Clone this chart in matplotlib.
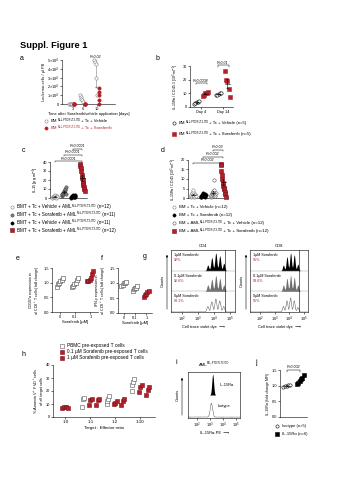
import re
import numpy as np
import matplotlib
matplotlib.use('Agg')
import matplotlib.pyplot as plt
import matplotlib.patches
from matplotlib.lines import Line2D

plt.rcParams['font.family'] = ['Liberation Sans', 'DejaVu Sans']
plt.rcParams['mathtext.fontset'] = 'custom'
plt.rcParams['mathtext.rm'] = 'Liberation Sans'
plt.rcParams['mathtext.it'] = 'Liberation Sans:italic'
plt.rcParams['axes.linewidth'] = 0.4
for k in ['xtick', 'ytick']:
    plt.rcParams[k + '.major.width'] = 0.4
    plt.rcParams[k + '.major.size'] = 1.2
    plt.rcParams[k + '.major.pad'] = 0.8
    plt.rcParams[k + '.labelsize'] = 2.8

RED = '#b3202a'
DRED = '#7a1018'
GREY = '#808080'
SUPTXT = '^{MLL-PTD/FLT3-ITD}'

# ---------------- DATA ----------------
# a
a_days = [3, 6, 10]
a_vehicle = [[0, 0, 0, 0, 0], [1.0, 0.8, 0.6, 0.4, 0.2], [5.0, 4.8, 4.5, 3.0, 1.0]]
a_sorafenib = [[0, 0, 0, 0, 0], [0, 0, 0, 0, 0], [1.8, 1.4, 1.0, 0.5, 0.0]]
a_yticks = [0, 1, 2, 3, 4, 5]
a_yticklabels = ['0', r'$1{\times}10^4$', r'$2{\times}10^4$', r'$3{\times}10^4$', r'$4{\times}10^4$', r'$5{\times}10^4$']
# b
b_days = ['Day 4', 'Day 14']
b_vehicle = [[2.5, 3.0, 3.5, 4.0, 4.5], [8.5, 9.0, 9.5, 10.0, 10.5]]
b_sorafenib = [[8.0, 9.0, 10.0, 10.5, 11.0], [26, 20, 19, 13, 7]]
b_pvals = ['P=0.0008', 'P=0.01']
# c
c_groups = [
    [0.5, 1, 1.5, 2, 2.5, 0.8, 1.2, 3, 0.3, 1.8, 2.2, 0.6],
    [2, 3, 4, 5, 6, 7, 8, 9, 10, 12, 4.5],
    [0.5, 1, 1.5, 2, 2.5, 3, 1.2, 0.8, 2.8, 1.6, 2.1],
    [38, 36, 33, 30, 26, 22, 20, 17, 15, 12, 10, 8],
]
c_pvals = ['P<0.0001', 'P<0.0001', 'P<0.0001']
# d
d_groups = [
    [0.5, 1, 1.5, 2, 2.5, 3, 4, 0.3, 1.2, 2.2, 1.8, 0.8],
    [0.3, 0.6, 1, 1.3, 1.6, 2, 2.4, 0.8, 1.1, 1.9, 0.5, 1.4],
    [0.5, 1, 1.5, 2, 2.5, 3, 3.5, 4, 9.5, 1.2, 2.2, 2.8],
    [18, 17.5, 14, 12, 10, 8, 6.5, 5.5, 5, 3, 2, 0.5],
]
d_pvals = ['P=0.002', 'P=0.002', 'P=0.03']
# e, f
ef_doses = ['0', '0.1', '1']
e_vals = [[0.85, 0.95, 1.0, 1.05, 1.1, 1.15], [0.85, 0.9, 0.95, 1.0, 1.1, 1.15], [1.05, 1.05, 1.1, 1.15, 1.3, 1.4]]
f_vals = [[0.9, 0.95, 1.0, 1.0, 1.05], [0.75, 0.8, 0.82, 0.85, 0.9], [0.55, 0.6, 0.65, 0.7, 0.75]]
# g (histogram generation peaks: centres in log10 units, heights)
g_centres = [3.6, 3.85, 4.1, 4.35, 4.6]
g_cd4_heights = [[0.30, 0.70, 0.95, 0.80, 0.40], [0.35, 0.65, 0.85, 0.70, 0.35], [0.30, 0.55, 0.70, 0.60, 0.30]]
g_cd8_heights = [[0.30, 0.75, 0.95, 0.85, 0.35], [0.35, 0.70, 0.85, 0.75, 0.35], [0.30, 0.60, 0.75, 0.60, 0.25]]
g_labels = ['1µM Sorafenib', '0.1µM Sorafenib', '0µM Sorafenib']
g_cd4_pct = ['92%', '92.6%', '93.1%']
g_cd8_pct = ['95%', '94.6%', '95%']
# h
h_ratios = ['1:0', '1:1', '1:2', '1:10']
h_target_only = [7.0, 7.5, 8.0, 7.2]
h_pbmc = [[8, 14, 15], [10, 12, 14, 16], [20, 25, 27, 29]]
h_s01 = [[9, 13, 13.5], [10, 11, 12], [19, 23, 25]]
h_s1 = [[9, 13, 14], [9, 12, 14], [17, 21, 23]]
# i
i_centre_il15 = 3.2
i_centre_iso = 3.1
# j
j_iso = [0.97, 0.99, 1.0, 1.01, 1.03]
j_il15 = [1.05, 1.1, 1.15, 1.2, 1.25, 1.35]

# ---------------- FIGURE ----------------
W, H = 339, 480
fig = plt.figure(figsize=(W / 100, H / 100), dpi=100)
renderer = fig.canvas.get_renderer()


def axpx(x0, y0, x1, y1):
    return fig.add_axes([x0 / W, 1 - y1 / H, (x1 - x0) / W, (y1 - y0) / H])


def txt(x, y, s, **kw):
    return fig.text(x / W, 1 - y / H, s, **kw)


def rich(x, y, s, fs, color='k', ha='left'):
    """Draw text with ^{...} superscripts as separate small text pieces (baseline at y px)."""
    pieces = re.split(r'(\^\{[^}]*\})', s)
    items = []
    for p in pieces:
        if not p:
            continue
        if p.startswith('^{'):
            items.append((p[2:-1], True))
        else:
            items.append((p.replace(' ', '\u00a0'), False))
    widths = []
    for t, sup in items:
        tt = fig.text(0, 0, t, fontsize=fs * (0.6 if sup else 1))
        widths.append(tt.get_window_extent(renderer).width)
        tt.remove()
    total = sum(widths)
    cx = x - (total / 2 if ha == 'center' else 0)
    for (t, sup), w in zip(items, widths):
        txt(cx, y - (fs * 0.55 if sup else 0), t, fontsize=fs * (0.6 if sup else 1),
            va='baseline', ha='left', color=color)
        cx += w


def style(ax):
    ax.spines['top'].set_visible(False)
    ax.spines['right'].set_visible(False)


def spread(n, w):
    return np.linspace(-w, w, n) if n > 1 else np.zeros(1)


def dots(ax, x, vals, marker, fc, ec, ms=2.4, w=0.18, mean=True, lw=0.4):
    vals = np.asarray(vals, float)
    ax.plot(x + spread(len(vals), w), vals, ls='none', marker=marker, ms=ms,
            mfc=fc, mec=ec, mew=0.4, clip_on=False, zorder=3)
    if mean:
        m = vals.mean()
        se = vals.std(ddof=1) / np.sqrt(len(vals))
        ax.plot([x - w, x + w], [m, m], color='k', lw=lw, zorder=4)
        ax.errorbar([x], [m], yerr=[se], color='k', lw=lw, capsize=0.8, capthick=lw, zorder=4)


def bracket(ax, x1, x2, y, s, h, fs=2.6):
    ax.plot([x1, x1, x2, x2], [y - h, y, y, y - h], color='k', lw=0.35, clip_on=False)
    ax.text((x1 + x2) / 2, y + h * 0.4, s, ha='center', va='bottom', fontsize=fs, style='italic')


def legend_item(x, y, marker, fc, ec, label, color='k', fs=3.0):
    fig.add_artist(Line2D([x / W], [1 - y / H], marker=marker, ms=2.3, mfc=fc, mec=ec, mew=0.4,
                          ls='none', transform=fig.transFigure))
    rich(x + 5, y + 1.4, label, fs, color=color)


txt(20, 45, 'Suppl. Figure 1', fontsize=6.7, fontweight='bold', va='center')
for lab, x, y in [('a', 22, 58), ('b', 157, 58), ('c', 23, 150), ('d', 163, 150),
                  ('e', 18, 258), ('f', 102, 258), ('g', 145, 257), ('h', 23, 355),
                  ('i', 176, 363), ('j', 256, 363)]:
    txt(x, y, lab, fontsize=5, va='center', ha='center')

# ---- a ----
ax = axpx(62, 60, 115, 104)
style(ax)
for i, d in enumerate(a_days):
    dots(ax, d - 0.5, a_vehicle[i], 'o', 'white', GREY, w=0.4, mean=False)
    dots(ax, d + 0.5, a_sorafenib[i], 'o', RED, RED, w=0.0, mean=False)
vm = np.mean(a_vehicle[2]); vs = np.std(a_vehicle[2], ddof=1)
ax.errorbar([a_days[2] - 0.5], [vm], yerr=[vs], color=GREY, lw=0.4, capsize=0.8)
ax.text(a_days[2] - 0.5, 5.15, 'P=0.02', ha='center', va='bottom', fontsize=2.6, style='italic')
ax.set_xlim(0, 15)
ax.set_ylim(0, 5)
ax.set_yticks(a_yticks)
ax.set_yticklabels(a_yticklabels)
ax.set_xticks(a_days)
ax.set_xlabel('Time after Sorafenib/vehicle application [days]', fontsize=2.9, labelpad=1)
ax.set_ylabel('Leukemic cells / µl PB', fontsize=2.8, labelpad=1)
legend_item(46, 121, 'o', 'white', GREY, 'BM' + SUPTXT + ' + Tc + Vehicle', fs=3.1)
legend_item(46, 128, 'o', RED, RED, 'BM' + SUPTXT + ' + Tc + Sorafenib', color=RED, fs=3.1)

# ---- b ----
ax = axpx(190, 66, 233, 107)
style(ax)
for i in range(2):
    dots(ax, i - 0.2, b_vehicle[i], 'o', 'white', 'k', w=0.12)
    dots(ax, i + 0.2, b_sorafenib[i], 's', RED, RED, w=0.12)
ax.set_xlim(-0.5, 1.45)
ax.set_ylim(0, 30)
ax.set_yticks([0, 10, 20, 30])
ax.set_xticks([0, 1])
ax.set_xticklabels(b_days)
ax.set_ylabel('IL-15Rα / CD45.1 [10$^3$ ml$^{-1}$]', fontsize=2.6, labelpad=1)
bracket(ax, -0.25, 0.25, 17.5, b_pvals[0], 0.9)
bracket(ax, 0.75, 1.25, 30.5, b_pvals[1], 0.9)
legend_item(174, 123, 'o', 'white', 'k', 'BM' + SUPTXT + ' + Tc + Vehicle (n=5)', fs=3.1)
legend_item(174, 134, 's', RED, RED, 'BM' + SUPTXT + ' + Tc + Sorafenib (n=5)', fs=3.1)

# ---- c ----
ax = axpx(50, 162, 87, 198)
style(ax)
cstyles = [('o', 'white', GREY), ('o', GREY, '#444444'), ('o', 'k', 'k'), ('s', RED, DRED)]
for i, vals in enumerate(c_groups):
    mk, fc, ec = cstyles[i]
    dots(ax, i, vals, mk, fc, ec, w=0.25)
ax.set_xlim(-0.5, 3.5)
ax.set_ylim(0, 40)
ax.set_yticks([0, 10, 20, 30, 40])
ax.set_xticks([])
ax.set_ylabel('IL-15 [pg ml$^{-1}$]', fontsize=2.8, labelpad=1)
bracket(ax, 0, 3, 41, c_pvals[0], 1.2)
bracket(ax, 1, 3, 48, c_pvals[1], 1.2)
bracket(ax, 2, 3, 55, c_pvals[2], 1.2)
c_labels = ['BMT + Tc + Vehicle + AML' + SUPTXT + ' (n=12)',
            'BMT + Tc + Sorafenib + AML' + SUPTXT + ' (n=11)',
            'BMT + Tc + Vehicle + AML' + SUPTXT + ' (n=11)',
            'BMT + Tc + Sorafenib + AML' + SUPTXT + ' (n=12)']
for i, lab in enumerate(c_labels):
    mk, fc, ec = cstyles[i]
    legend_item(12, 207 + 7.8 * i, mk, fc, ec, lab, fs=3.3)

# ---- d ----
ax = axpx(188, 160, 228, 198)
style(ax)
dstyles = [('o', 'white', GREY), ('o', 'k', 'k'), ('o', 'white', '#555555'), ('s', RED, DRED)]
for i, vals in enumerate(d_groups):
    mk, fc, ec = dstyles[i]
    dots(ax, i, vals, mk, fc, ec, w=0.25)
ax.set_xlim(-0.5, 3.5)
ax.set_ylim(0, 20)
ax.set_yticks([0, 5, 10, 15, 20])
ax.set_xticks([])
ax.set_ylabel('IL-15Rα / CD45 [10$^3$ ml$^{-1}$]', fontsize=2.6, labelpad=1)
bracket(ax, 0, 3, 18.5, d_pvals[0], 0.6)
bracket(ax, 1, 3, 21.8, d_pvals[1], 0.6)
bracket(ax, 2, 3, 25.3, d_pvals[2], 0.6)
d_labels = ['BM + Tc + Vehicle (n=12)', 'BM + Tc + Sorafenib (n=12)',
            'BM + AML' + SUPTXT + ' + Tc + Vehicle (n=12)',
            'BM + AML' + SUPTXT + ' + Tc + Sorafenib (n=12)']
for i, lab in enumerate(d_labels):
    mk, fc, ec = dstyles[i]
    legend_item(174, 207 + 8 * i, mk, fc, ec, lab, fs=3.2)

# ---- e, f ----
for vals, box, ylab in [(e_vals, (52, 268, 98, 312), 'CD107a expression in\nall CD8$^+$ T cells (fold change)'),
                        (f_vals, (118, 268, 152, 313), 'IFN-γ expression in\nall CD8$^+$ T cells (fold change)')]:
    ax = axpx(*box)
    style(ax)
    for i, v in enumerate(vals):
        if i < 2:
            dots(ax, i, v, 's', 'white', '#444444', ms=2.7, w=0.2, mean=False)
        else:
            dots(ax, i, v, 's', RED, DRED, ms=2.7, w=0.2, mean=False)
    ax.set_xlim(-0.5, 2.5)
    ax.set_ylim(0, 1.5)
    ax.set_yticks([0, 0.5, 1.0, 1.5])
    ax.set_yticklabels(['0.0', '0.5', '1.0', '1.5'])
    ax.set_xticks([0, 1, 2])
    ax.set_xticklabels(ef_doses)
    ax.set_xlabel('Sorafenib [µM]', fontsize=2.9, labelpad=1)
    ax.set_ylabel(ylab, fontsize=2.6, labelpad=1)

# ---- g ----
xg = np.linspace(1.3, 5.3, 600)


def profile(centres, heights, sd=0.06):
    y = np.zeros_like(xg)
    for c, h in zip(centres, heights):
        y += h * np.exp(-0.5 * ((xg - c) / sd) ** 2)
    return y


for title, x0, x1, heights, pcts in [('CD4', 171, 235, g_cd4_heights, g_cd4_pct),
                                     ('CD8', 250, 308, g_cd8_heights, g_cd8_pct)]:
    ax = axpx(x0, 250, x1, 312)
    for r in range(3):
        base = 2 - r
        y = base + 0.9 * profile(g_centres, heights[r])
        if r == 0:
            ax.fill_between(xg, base, y, color='k', lw=0)
        elif r == 1:
            ax.fill_between(xg, base, y, color='#6e6e6e', lw=0)
        else:
            ax.plot(xg, y, color='k', lw=0.35, ls=(0, (1.5, 0.8)))
        ax.text(1.5, base + 0.85, g_labels[r], fontsize=2.7, va='top')
        ax.text(1.5, base + 0.62, pcts[r], fontsize=2.7, va='top', color=RED)
    for yy in [1, 2]:
        ax.axhline(yy, color='#999999', lw=0.3)
    ax.axvline(4.65, color='k', lw=0.4)
    ax.set_xlim(1.3, 5.3)
    ax.set_ylim(0, 3)
    ax.set_yticks([])
    ax.set_xticks([2, 3, 4, 5])
    ax.set_xticklabels(['10$^2$', '10$^3$', '10$^4$', '10$^5$'])
    ax.set_xlabel('Cell trace violet dye  ⟶', fontsize=2.9, labelpad=1)
    txt((x0 + x1) / 2, 246, title, fontsize=3.0, ha='center', va='center')
    fig.add_artist(matplotlib.patches.FancyArrowPatch(((x0 - 4) / W, 1 - 312 / H), ((x0 - 4) / W, 1 - 252 / H),
                                                      transform=fig.transFigure, arrowstyle='-|>',
                                                      mutation_scale=3, lw=0.4, color='k'))
    txt(x0 - 8, 281, 'Counts', fontsize=2.8, rotation=90, ha='center', va='center')

# ---- h ----
ax = axpx(53, 365, 155, 417)
style(ax)
dots(ax, 0, h_target_only, 's', RED, DRED, ms=2.6, w=0.12, mean=False)
for i in range(3):
    dots(ax, i + 1 - 0.3, h_pbmc[i], 's', 'white', '#555555', ms=2.6, w=0.04, mean=False)
    dots(ax, i + 1, h_s01[i], 's', RED, DRED, ms=2.6, w=0.06, mean=False)
    dots(ax, i + 1 + 0.3, h_s1[i], 's', RED, DRED, ms=2.6, w=0.06, mean=False)
ax.set_xlim(-0.5, 3.6)
ax.set_ylim(0, 40)
ax.set_yticks([0, 10, 20, 30, 40])
ax.set_xticks([0, 1, 2, 3])
ax.set_xticklabels(h_ratios, fontsize=3.2)
ax.set_xlabel('Target : Effector ratio', fontsize=3.2, labelpad=1.5)
ax.set_ylabel('% Annexin V$^+$ FVD$^+$cells\nof all target cells', fontsize=2.8, labelpad=1)
legend_item(62, 346, 's', 'white', '#555555', 'PBMC pre-exposed T cells', fs=3.4)
legend_item(62, 352, 's', RED, DRED, '0.1 µM Sorafenib pre-exposed T cells', fs=3.4)
legend_item(62, 358, 's', RED, DRED, '1 µM Sorafenib pre-exposed T cells', fs=3.4)

# ---- i ----
ax = axpx(188, 372, 240, 418)
yi = 0.5 + 0.45 * np.exp(-0.5 * ((xg - i_centre_il15) / 0.07) ** 2)
ax.fill_between(xg, 0.5, yi, color='k', lw=0)
yiso = 0.02 + 0.3 * np.exp(-0.5 * ((xg - i_centre_iso) / 0.09) ** 2)
ax.plot(xg, yiso, color='k', lw=0.35, ls=(0, (1.5, 0.8)))
ax.text(3.7, 0.72, 'IL-15Rα', fontsize=2.9, va='center')
ax.text(3.6, 0.25, 'Isotype', fontsize=2.9, va='center')
ax.set_xlim(1.3, 5.3)
ax.set_ylim(0, 1)
ax.set_yticks([])
ax.set_xticks([2, 3, 4, 5])
ax.set_xticklabels(['10$^2$', '10$^3$', '10$^4$', '10$^5$'])
ax.set_xlabel('IL-15Rα-PE  ⟶', fontsize=2.9, labelpad=1)
rich(214, 366, 'AML' + SUPTXT, 3.0, ha='center')
fig.add_artist(matplotlib.patches.FancyArrowPatch((182 / W, 1 - 418 / H), (182 / W, 1 - 375 / H),
                                                  transform=fig.transFigure, arrowstyle='-|>',
                                                  mutation_scale=3, lw=0.4, color='k'))
txt(178, 395, 'Counts', fontsize=2.8, rotation=90, ha='center', va='center')

# ---- j ----
ax = axpx(280, 370, 307, 417)
style(ax)
dots(ax, 0, j_iso, 'o', 'white', 'k', w=0.25)
dots(ax, 1, j_il15, 's', 'k', 'k', w=0.25)
ax.set_xlim(-0.5, 1.5)
ax.set_ylim(0, 1.5)
ax.set_yticks([0, 0.5, 1.0, 1.5])
ax.set_yticklabels(['0.0', '0.5', '1.0', '1.5'])
ax.set_xticks([])
ax.set_ylabel('IL-15Rα (fold change MFI)', fontsize=2.6, labelpad=1)
bracket(ax, 0, 1, 1.5, 'P=0.002', 0.05)
legend_item(277, 426, 'o', 'white', 'k', 'Isotype (n=5)')
legend_item(277, 434, 's', 'k', 'k', 'IL-15Rα (n=6)')

fig.savefig('out.png', dpi=100)
